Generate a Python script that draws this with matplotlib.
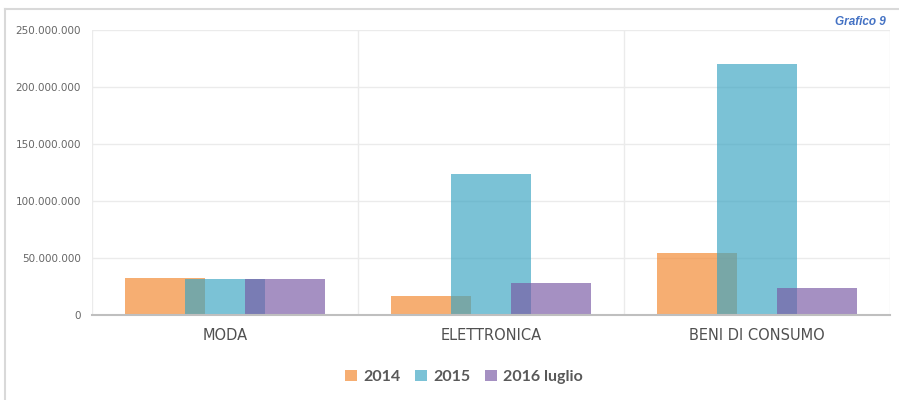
import numpy as np
import matplotlib.pyplot as plt
from matplotlib.lines import Line2D
from matplotlib.ticker import FuncFormatter

# data (values in euro)
categories = ['MODA', 'ELETTRONICA', 'BENI DI CONSUMO']
series_names = ['2014', '2015', '2016 luglio']
v2014 = [32.3e6, 16.9e6, 54.0e6]
v2015 = [31.6e6, 123.7e6, 220.4e6]
v2016 = [31.3e6, 28.3e6, 23.4e6]
colors = ['#F3862D', '#3AA4C2', '#795AA4']

fig = plt.figure(figsize=(8.99, 4.0), dpi=100)
ax = fig.add_axes([92/899, 85/400, 798/899, 285/400])

x = np.arange(len(categories))
width = 0.30
offset = 0.226
for i, vals in enumerate([v2014, v2015, v2016]):
    ax.bar(x + (i - 1)*offset, vals, width, color=colors[i], alpha=0.67,
           label=series_names[i], zorder=3)

ax.set_xlim(-0.5, 2.5)
ax.set_ylim(0, 250e6)
ax.set_yticks(np.arange(0, 250e6 + 1, 50e6))
ax.yaxis.set_major_formatter(FuncFormatter(lambda v, p: f'{int(v):,}'.replace(',', '.')))
ax.set_xticks(x)
ax.set_xticklabels(categories, fontsize=10.5, color='#505050')
ax.tick_params(axis='y', labelsize=7.5, labelcolor='#666666', length=0, pad=8)
ax.tick_params(axis='x', length=0, pad=9)

# grid
ax.grid(axis='y', color='#EBEBEB', linewidth=1, zorder=0)
for b in [-0.5, 0.5, 1.5, 2.5]:
    ax.axvline(b, color='#EBEBEB', linewidth=1, zorder=0)
for s in ['left', 'right', 'top']:
    ax.spines[s].set_visible(False)
ax.spines['bottom'].set_color('#BFBFBF')
ax.spines['bottom'].set_linewidth(1.5)
ax.spines['bottom'].set_zorder(4)

# outer frame (left and top edges)
fig.add_artist(Line2D([5/899, 5/899], [0, 391/400], color='#D9D9D9', linewidth=1.5))
fig.add_artist(Line2D([5/899, 1], [391/400, 391/400], color='#D9D9D9', linewidth=1.5))

fig.text(886/899, 378/400, 'Grafico 9', ha='right', va='center', fontsize=8.5,
         fontweight='bold', fontstyle='italic', color='#4472C4',
         family='Liberation Sans')

handles, labels = ax.get_legend_handles_labels()
leg = fig.legend(handles, labels, loc='center', bbox_to_anchor=(464/899, 23/400), ncol=3,
                 frameon=False, handlelength=0.75, handleheight=0.75, handletextpad=0.4,
                 columnspacing=0.9,
                 prop={'size': 11.5, 'weight': 'bold', 'family': 'Lato'})
for t in leg.get_texts():
    t.set_color('#595959')

fig.savefig('out.png', dpi=100)
